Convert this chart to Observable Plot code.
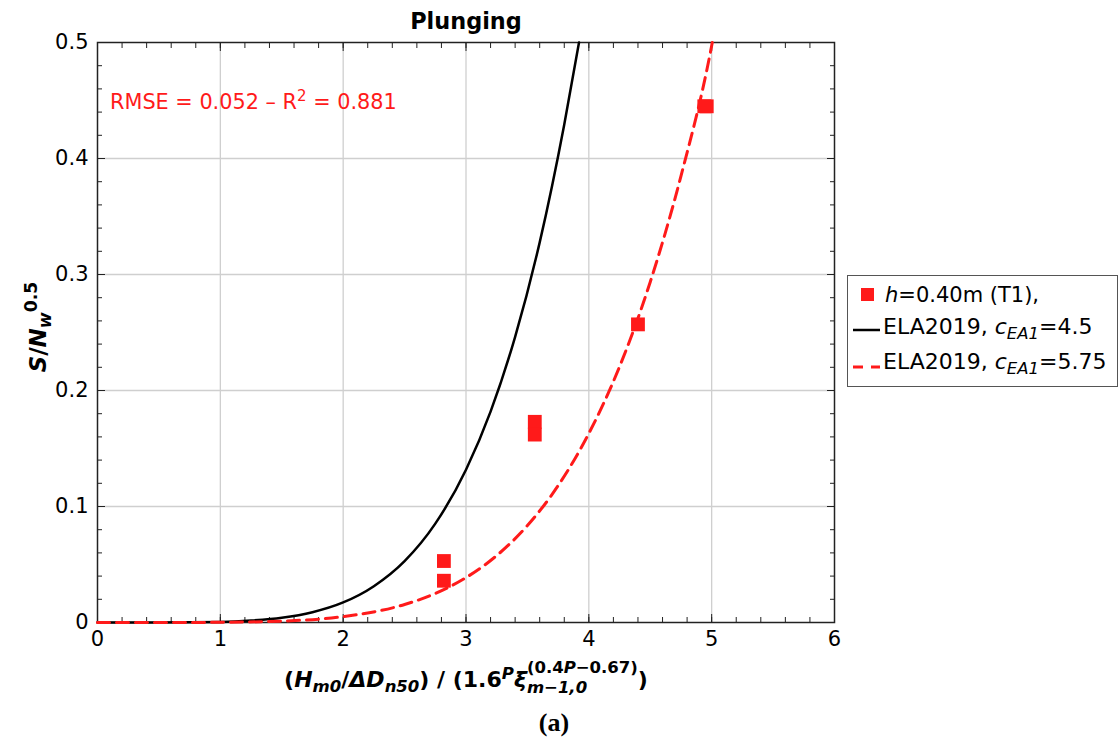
<!DOCTYPE html>
<html><head><meta charset="utf-8">
<script src="https://cdn.jsdelivr.net/npm/d3@7"></script>
<script src="https://cdn.jsdelivr.net/npm/@observablehq/plot@0.6"></script>
<style>
body{margin:0;background:#fff;font-family:"DejaVu Sans",sans-serif;}
#wrap{position:relative;width:1118px;height:738px;overflow:hidden;}
.abs{position:absolute;white-space:nowrap;line-height:1;}
.bi{font-weight:bold;font-style:italic;}
.b{font-weight:bold;}
.sb{font-size:75%;vertical-align:-0.3em;line-height:0;}
.sp{font-size:75%;vertical-align:0.5em;line-height:0;}
#legend{position:absolute;left:847px;top:275px;width:271px;height:112px;border:1px solid #555;box-sizing:border-box;background:#fff;}
#legend .item{position:absolute;font-size:22px;white-space:nowrap;line-height:1;}
#legend svg{position:absolute;}
</style></head><body><div id="wrap"></div>
<script>
// axis ticks
const xTicks = [0, 1, 2, 3, 4, 5, 6];
const yTicks = [0, 0.1, 0.2, 0.3, 0.4, 0.5];
const xMinor = d3.range(0, 6.001, 0.2);
const yMinor = d3.range(0, 0.5001, 0.02);

// observed points h=0.40m (T1)
const obsX = [2.82, 2.82, 3.56, 3.56, 4.40, 4.94, 4.96];
const obsY = [0.053, 0.036, 0.173, 0.162, 0.257, 0.445, 0.445];

// ELA2019, cEA1 = 4.5 (black solid)
const blackX = [0, 0.5, 1, 1.25, 1.5, 1.75, 2, 2.25, 2.5, 2.75, 3, 3.2, 3.4, 3.6, 3.8, 3.92];
const blackY = [0, 0.00002, 0.0005, 0.0017, 0.0041, 0.0089, 0.0173, 0.0313, 0.0529, 0.0852, 0.1317, 0.1818, 0.2463, 0.3277, 0.4294, 0.5];

// ELA2019, cEA1 = 5.75 (red dashed)
const redX = [0, 0.5, 1, 1.5, 2, 2.5, 2.75, 3, 3.25, 3.5, 3.75, 4, 4.25, 4.5, 4.75, 5, 5.005];
const redY = [0, 0.000005, 0.00016, 0.0012, 0.0051, 0.0155, 0.025, 0.0387, 0.0577, 0.0836, 0.118, 0.163, 0.2205, 0.2936, 0.3848, 0.4972, 0.5];

const RED = "#ff1a1a";
const obs = obsX.map((x, i) => ({x, y: obsY[i]}));
const black = blackX.map((x, i) => ({x, y: blackY[i]}));
const red = redX.map((x, i) => ({x, y: redY[i]}));
const blank = () => "";

const plot = Plot.plot({
  width: 1118, height: 738,
  marginLeft: 97, marginRight: 284, marginTop: 42, marginBottom: 116,
  x: {domain: [0, 6]},
  y: {domain: [0, 0.5]},
  style: {fontFamily: "DejaVu Sans", fontSize: "21px", color: "black", background: "white"},
  marks: [
    Plot.gridX(xTicks.slice(1, -1), {stroke: "#cfcfcf", strokeOpacity: 1, strokeWidth: 1.3}),
    Plot.gridY(yTicks.slice(1, -1), {stroke: "#cfcfcf", strokeOpacity: 1, strokeWidth: 1.3}),
    // labels
    Plot.axisX(xTicks, {tickSize: 0, tickPadding: 9, fontSize: 21, label: null, tickFormat: d => String(d)}),
    Plot.axisY(yTicks, {tickSize: 0, tickPadding: 9, fontSize: 21, label: null, tickFormat: d => String(d)}),
    // inward ticks
    Plot.axisX(xMinor, {tickSize: -5, tickFormat: blank, label: null, stroke: "#222"}),
    Plot.axisX(xTicks, {tickSize: -8, tickFormat: blank, label: null, stroke: "#222"}),
    Plot.axisX(xMinor, {anchor: "top", tickSize: -5, tickFormat: blank, label: null, stroke: "#222"}),
    Plot.axisX(xTicks, {anchor: "top", tickSize: -8, tickFormat: blank, label: null, stroke: "#222"}),
    Plot.axisY(yMinor, {tickSize: -5, tickFormat: blank, label: null, stroke: "#222"}),
    Plot.axisY(yTicks, {tickSize: -8, tickFormat: blank, label: null, stroke: "#222"}),
    Plot.axisY(yMinor, {anchor: "right", tickSize: -5, tickFormat: blank, label: null, stroke: "#222"}),
    Plot.axisY(yTicks, {anchor: "right", tickSize: -8, tickFormat: blank, label: null, stroke: "#222"}),
    Plot.frame({stroke: "#222", strokeWidth: 1.5}),
    Plot.line(black, {x: "x", y: "y", stroke: "black", strokeWidth: 2.5, curve: "monotone-x"}),
    Plot.line(red, {x: "x", y: "y", stroke: RED, strokeWidth: 3, strokeDasharray: "12,7", curve: "monotone-x"}),
    Plot.dot(obs, {x: "x", y: "y", symbol: "square", r: 7.8, fill: RED, stroke: null})
  ]
});

const wrap = document.getElementById("wrap");
wrap.appendChild(plot);

wrap.insertAdjacentHTML("beforeend", `
<div class="abs b" style="left:466px;top:10px;transform:translateX(-50%);font-size:22.4px;">Plunging</div>
<div class="abs" style="left:110px;top:92px;font-size:20.8px;color:${RED};">RMSE = 0.052 – R<span style="font-size:72%;vertical-align:0.55em;line-height:0;">2</span> = 0.881</div>
<div class="abs b" style="left:38px;top:327px;transform:translate(-50%,-50%) rotate(-90deg);font-size:23px;"><span class="bi">S</span>/<span class="bi">N</span><span class="bi sb">w</span><span class="sp">0.5</span></div>
<div class="abs b" style="left:466px;top:669px;transform:translateX(-50%);font-size:22px;">(<span class="bi">H</span><span class="bi sb">m0</span>/<span class="bi">ΔD</span><span class="bi sb">n50</span>) / (1.6<span class="bi sp">P</span><span class="bi">ξ</span><span style="display:inline-block;font-size:75%;line-height:20px;text-align:left;position:relative;top:6px;margin-top:-18px;"><span style="display:block;">(0.4<i>P</i>−0.67)</span><span class="bi" style="display:block;">m−1,0</span></span>)</div>
<div class="abs" style="left:554px;top:710px;transform:translateX(-50%);font-family:'Liberation Serif',serif;font-weight:bold;font-size:26px;">(a)</div>
<div id="legend">
  <svg style="left:13px;top:12px" width="13" height="13"><rect x="0" y="0" width="13" height="13" fill="${RED}"/></svg>
  <div class="item" style="left:37px;top:9px;font-size:21px;"><i>h</i>=0.40m (T1),</div>
  <svg style="left:5px;top:52px" width="28" height="4"><line x1="0" y1="2" x2="27" y2="2" stroke="black" stroke-width="2.5"/></svg>
  <div class="item" style="left:35px;top:40px;">ELA2019, <i>c</i><span class="sb"><i>EA1</i></span>=4.5</div>
  <svg style="left:5px;top:89px" width="28" height="4"><line x1="0" y1="2" x2="27" y2="2" stroke="${RED}" stroke-width="3" stroke-dasharray="10,8"/></svg>
  <div class="item" style="left:35px;top:75px;">ELA2019, <i>c</i><span class="sb"><i>EA1</i></span>=5.75</div>
</div>
`);
</script>
</body></html>
